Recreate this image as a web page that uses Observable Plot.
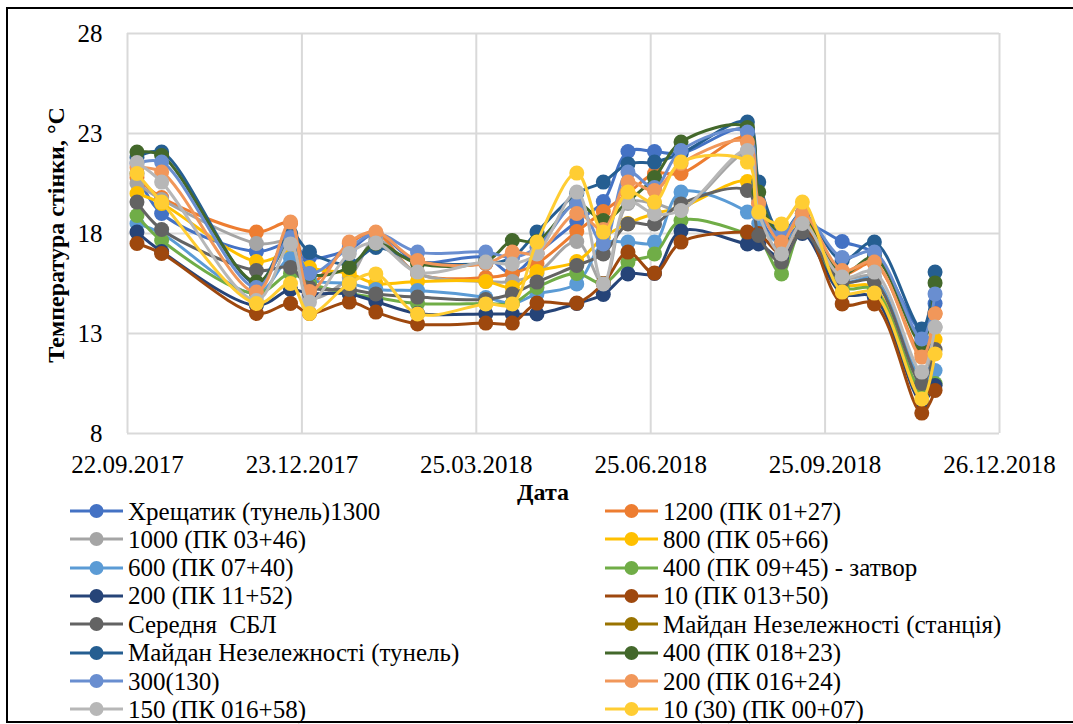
<!DOCTYPE html>
<html><head><meta charset="utf-8">
<script src="https://cdn.jsdelivr.net/npm/d3@7"></script>
<script src="https://cdn.jsdelivr.net/npm/@observablehq/plot@0.6"></script>
<style>
body{margin:0;background:#fff;}
#wrap{position:relative;width:1073px;height:724px;overflow:hidden;color:#000;}
#frame{position:absolute;left:6px;top:7px;width:1080px;height:716px;border:2px solid #000;box-sizing:border-box;pointer-events:none;}
#chart{position:absolute;left:0;top:0;}
.ylab{position:absolute;left:56px;top:235px;transform:translate(-50%,-50%) rotate(-90deg);white-space:nowrap;font-weight:bold;font-size:24px;}
.xlab{position:absolute;left:543px;top:492px;transform:translate(-50%,-50%);font-weight:bold;font-size:24px;}
.leg{position:absolute;display:flex;align-items:center;white-space:nowrap;font-size:25px;line-height:1;}
.leg svg{margin-right:5px;}
</style>
</head><body>
<div id="wrap">
  <div id="chart"></div>
  <div class="ylab">Температура стінки, °С</div>
  <div class="xlab">Дата</div>
  <div id="legend"></div>
  <div id="frame"></div>
</div>
<script>
const FONT = "'Liberation Serif', Tinos, 'Times New Roman', serif";
const dates = ["2017-09-27","2017-10-10","2017-11-29","2017-12-17","2017-12-27","2018-01-17","2018-01-31","2018-02-22","2018-03-30","2018-04-13","2018-04-26","2018-05-17","2018-05-31","2018-06-13","2018-06-27","2018-07-11","2018-08-15","2018-08-21","2018-09-02","2018-09-13","2018-10-04","2018-10-21","2018-11-15","2018-11-22"];
const seriesNames = ["Хрещатик (тунель)1300","1200 (ПК 01+27)","1000 (ПК 03+46)","800 (ПК 05+66)","600 (ПК 07+40)","400 (ПК 09+45) - затвор","200 (ПК 11+52)","10 (ПК 013+50)","Середня  СБЛ","Майдан Незележності (станція)","Майдан Незележності (тунель)","400 (ПК 018+23)","300(130)","200 (ПК 016+24)","150 (ПК 016+58)","10 (30) (ПК 00+07)"];
const colors = ["#4472C4","#ED7D31","#A5A5A5","#FFC000","#5B9BD5","#70AD47","#264478","#9E480E","#636363","#997300","#255E91","#43682B","#698ED0","#F1975A","#B7B7B7","#FFCD33"];

const khreshchatyk = [21.0,19.0,17.1,17.5,16.8,17.2,18.0,16.6,16.8,16.0,17.0,18.6,19.6,22.1,22.1,22.0,23.2,19.0,17.5,18.5,17.6,17.0,13.2,14.5];
const s1200 = [20.8,19.8,18.07,18.5,15.5,17.5,18.0,16.0,15.8,16.0,16.5,18.1,19.1,20.0,21.0,21.0,22.8,19.5,17.7,18.8,16.0,16.5,12.0,14.0];
const s1000 = [20.5,19.7,17.5,17.5,14.8,15.8,17.7,16.0,15.6,15.6,16.0,17.6,15.5,19.5,19.5,19.2,22.0,19.0,17.0,18.3,15.8,15.8,10.5,13.3];
const s800 = [20.0,19.5,16.6,17.0,16.3,16.0,15.5,15.6,15.6,15.3,16.1,16.6,17.8,18.5,19.0,19.3,20.6,19.3,17.8,18.7,15.5,15.3,10.0,12.7];
const s600 = [18.5,18.0,15.0,16.75,15.7,15.5,15.2,15.15,14.8,14.5,14.98,15.48,17.5,17.57,17.57,20.07,19.07,18.5,17.5,18.3,15.6,15.7,10.8,11.15];
const s400z = [18.9,17.65,15.0,16.0,15.5,15.0,14.8,14.5,14.5,14.5,15.3,16.0,15.5,16.57,16.98,18.65,18.0,17.8,15.98,18.2,15.3,15.2,10.15,10.5];
const s200 = [18.07,17.1,14.4,15.2,15.0,14.98,14.6,14.0,13.98,13.98,13.98,14.5,14.95,15.98,16.0,18.12,17.48,17.48,16.8,18.0,15.0,14.8,9.6,10.4];
const s10 = [17.5,17.0,14.0,14.5,14.0,14.57,14.07,13.48,13.52,13.52,14.52,14.52,15.5,17.07,16.02,17.57,18.07,18.0,17.0,18.5,14.48,14.48,9.02,10.15];
const avgSBL = [19.57,18.2,16.15,16.3,15.3,15.2,14.98,14.82,14.7,14.98,15.57,16.4,16.98,18.48,18.48,19.48,20.15,17.9,16.57,18.07,15.6,15.6,10.5,12.2];
const maidanStation = [];
const maidanTunnel = [21.8,22.07,15.5,18.0,17.07,16.48,17.3,16.6,16.5,16.8,18.07,20.0,20.57,21.48,21.57,22.0,23.57,20.57,18.0,19.0,16.65,17.57,13.23,16.07];
const s400 = [22.07,21.9,15.57,17.5,15.98,16.3,17.5,16.5,16.6,17.65,17.6,19.5,18.65,19.6,20.8,22.57,23.3,20.07,17.8,18.9,16.0,16.8,12.5,15.53];
const s300 = [21.5,21.57,15.3,17.8,16.0,17.3,18.0,17.07,17.07,16.8,17.3,19.48,17.48,21.07,20.3,22.15,23.07,19.2,17.9,19.0,16.8,17.07,12.73,14.98];
const s200b = [21.3,21.07,15.07,18.57,15.1,17.57,18.07,16.65,16.5,17.07,17.0,19.0,18.2,20.57,20.15,21.5,22.57,19.5,17.57,19.0,16.15,16.57,11.82,13.98];
const s150 = [21.55,20.57,14.65,17.48,14.57,17.0,17.53,16.07,16.57,16.48,16.98,20.07,15.48,19.57,18.98,19.15,22.15,19.0,16.98,18.5,15.82,16.07,11.07,13.32];
const s10b = [21.0,19.57,14.5,15.5,14.0,15.5,15.98,13.98,14.48,14.48,17.57,21.02,18.07,20.07,19.57,21.57,21.57,19.07,18.48,19.57,15.07,15.02,9.73,11.98];

const xTickLabels = ["2017-09-22","2017-12-23","2018-03-25","2018-06-25","2018-09-25","2018-12-26"];
const yTicks = [8,13,18,23,28];

const allValues = [khreshchatyk,s1200,s1000,s800,s600,s400z,s200,s10,avgSBL,maidanStation,maidanTunnel,s400,s300,s200b,s150,s10b];
const seriesData = allValues.map((vals,i)=>vals.map((v,j)=>({series:seriesNames[i],date:new Date(dates[j]),value:v})));
const xTicks = xTickLabels.map(d=>new Date(d));

const marks = [
  Plot.gridY(yTicks,{stroke:"#d9d9d9",strokeOpacity:1,strokeWidth:2}),
  Plot.gridX(xTicks,{stroke:"#d9d9d9",strokeOpacity:1,strokeWidth:2}),
  Plot.axisX(xTicks,{tickSize:0,tickPadding:22,tickFormat:d3.utcFormat("%d.%m.%Y"),label:null,fontSize:25}),
  Plot.axisY(yTicks,{tickSize:0,tickPadding:25,label:null,fontSize:25})
];
seriesData.forEach((d,i)=>{
  if(!d.length) return;
  marks.push(Plot.line(d,{x:"date",y:"value",stroke:colors[i],strokeWidth:3,curve:"catmull-rom"}));
  marks.push(Plot.dot(d,{x:"date",y:"value",fill:colors[i],r:7.5,stroke:"none"}));
});

const chart = Plot.plot({
  width:1073,height:480,
  marginLeft:127,marginRight:74,marginTop:33,marginBottom:47,
  style:{fontSize:"25px",background:"transparent",color:"#000"},
  x:{type:"utc",domain:[xTicks[0],xTicks[xTicks.length-1]]},
  y:{domain:[8,28]},
  marks
});
document.getElementById("chart").appendChild(chart);

// legend
const legend = document.getElementById("legend");
const rowY = [511,539,567.5,595.5,624,652.5,681,709];
seriesNames.forEach((name,i)=>{
  const col = i%2, row = Math.floor(i/2);
  const el = document.createElement("div");
  el.className="leg";
  el.style.left = (col===0?70:605)+"px";
  el.style.top = (rowY[row]-14)+"px";
  el.style.height="28px";
  el.innerHTML = `<svg width="53" height="16"><line x1="0" y1="8" x2="53" y2="8" stroke="${colors[i]}" stroke-width="3"/><circle cx="26.5" cy="8" r="7" fill="${colors[i]}"/></svg><span>${name.replace(/  /g,"\u00a0 ")}</span>`;
  legend.appendChild(el);
});

function applyFont(){
  document.querySelectorAll("#wrap, #wrap *").forEach(n=>{
    n.style.setProperty("font-family", FONT, "important");
  });
  document.querySelectorAll("#chart svg").forEach(s=>s.setAttribute("font-family","Liberation Serif"));
}
applyFont();
setTimeout(applyFont, 50);
</script>
</body></html>
